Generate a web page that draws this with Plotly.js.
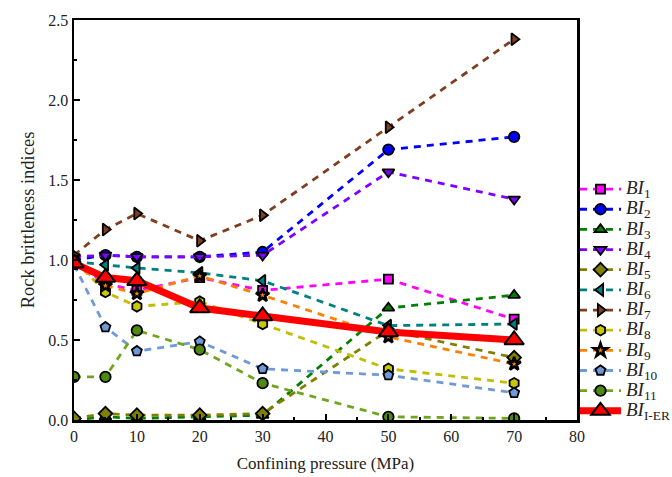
<!DOCTYPE html>
<html>
<head>
<meta charset="utf-8">
<script src="https://cdn.plot.ly/plotly-3.0.1.min.js"></script>
<style>html,body{margin:0;padding:0;background:#fff;}#chart{width:672px;height:477px;}</style>
</head>
<body>
<div id="chart"></div>
<script>
// Confining pressure (MPa)
const pressure = [0, 5, 10, 20, 30, 50, 70];

const seriesNames = ["1","2","3","4","5","6","7","8","9","10","11"];
const BI1  = [1.00, 0.85, 0.81, 0.89, 0.81, 0.88, 0.63];
const BI2  = [1.00, 1.03, 1.02, 1.02, 1.05, 1.69, 1.77];
const BI3  = [0.00, 0.02, 0.01, 0.02, 0.03, 0.70, 0.78];
const BI4  = [1.02, 1.03, 1.02, 1.02, 1.03, 1.55, 1.38];
const BI5  = [0.01, 0.04, 0.03, 0.03, 0.04, 0.56, 0.39];
const BI6  = [0.99, 0.97, 0.95, 0.92, 0.87, 0.59, 0.60];
const BI7  = [1.03, 1.19, 1.29, 1.12, 1.28, 1.83, 2.38];
const BI8  = [1.00, 0.80, 0.71, 0.74, 0.60, 0.32, 0.23];
const BI9  = [0.98, 0.84, 0.79, 0.90, 0.78, 0.52, 0.35];
const BI10 = [0.97, 0.58, 0.43, 0.49, 0.32, 0.28, 0.17];
const BI11 = [0.27, 0.27, 0.56, 0.44, 0.23, 0.02, 0.01];
const BI_IER = [0.98, 0.89, 0.87, 0.70, 0.65, 0.55, 0.50];

const allSeries = [BI1, BI2, BI3, BI4, BI5, BI6, BI7, BI8, BI9, BI10, BI11];
const lineColors = ["#FF00FF","#0000FF","#008000","#8000FF","#808000","#008080","#7F3F1F","#BFBF00","#FF8000","#6E9BD6","#6FA61E"];
const fillColors = ["#FF00FF","#0000FF","#008000","#8000FF","#808000","#008080","#7F3F1F","#C8C800","#FF8000","#6E9BD6","#4F8A10"];
const symbols = ["square","circle","triangle-up","triangle-down","diamond","triangle-left","triangle-right","hexagon","star","pentagon","circle"];
const sizes = [9,10.5,10.5,10.5,10.5,10.5,10.5,10.5,10,10.5,10.5];
const outline = [1.8,1.8,1.8,1.8,1.8,1.8,1.8,1.8,2.6,1.8,1.8];

function legendName(sub) {
  return '<span style="font-size:19px"><i>BI</i><sub>' + sub + '</sub></span>';
}

const traces = allSeries.map((vals, i) => ({
  x: pressure,
  y: vals,
  type: "scatter",
  mode: "lines+markers",
  name: legendName(seriesNames[i]),
  line: {color: lineColors[i], width: 2.8, dash: "7px,6px"},
  marker: {symbol: symbols[i], size: sizes[i], color: fillColors[i], line: {color: "#000", width: outline[i]}}
}));

traces.push({
  x: pressure,
  y: BI_IER,
  type: "scatter",
  mode: "lines+markers",
  name: legendName("I-ER"),
  line: {color: "#FF0000", width: 7},
  marker: {symbol: "triangle-up", size: 17, color: "#FF0000", line: {color: "#000", width: 2}}
});

const fontFam = "Liberation Serif, Times New Roman, serif";

const layout = {
  width: 672,
  height: 477,
  margin: {l: 74, r: 95, t: 20, b: 57, autoexpand: false},
  paper_bgcolor: "#fff",
  plot_bgcolor: "#fff",
  font: {family: fontFam, color: "#222"},
  showlegend: true,
  legend: {
    x: 0.996, xanchor: "left",
    y: 0.615, yanchor: "top",
    bgcolor: "rgba(0,0,0,0)",
    font: {family: fontFam, size: 13.2, color: "#222"},
    tracegroupgap: 0,
    itemwidth: 41
  },
  xaxis: {
    range: [0, 80],
    dtick: 10,
    tick0: 0,
    ticks: "inside",
    ticklen: 6,
    tickwidth: 2,
    tickcolor: "#000",
    showline: true,
    linecolor: "#000",
    linewidth: 2.5,
    mirror: true,
    showgrid: false,
    zeroline: false,
    tickfont: {family: fontFam, size: 16, color: "#222"},
    minor: {dtick: 5, ticks: "inside", ticklen: 3, tickwidth: 2, tickcolor: "#000", showgrid: false},
    title: {text: "Confining pressure (MPa)", font: {family: fontFam, size: 17, color: "#222"}, standoff: 14}
  },
  yaxis: {
    range: [0, 2.5],
    dtick: 0.5,
    tick0: 0,
    tickformat: ".1f",
    ticks: "inside",
    ticklen: 6,
    tickwidth: 2,
    tickcolor: "#000",
    showline: true,
    linecolor: "#000",
    linewidth: 2.5,
    mirror: true,
    showgrid: false,
    zeroline: false,
    tickfont: {family: fontFam, size: 16, color: "#222"},
    minor: {dtick: 0.25, ticks: "inside", ticklen: 3, tickwidth: 2, tickcolor: "#000", showgrid: false},
    title: {text: "Rock brittleness indices", font: {family: fontFam, size: 18.5, color: "#222"}, standoff: 9}
  }
};

Plotly.newPlot("chart", traces, layout, {displayModeBar: false, staticPlot: true});
</script>
</body>
</html>
